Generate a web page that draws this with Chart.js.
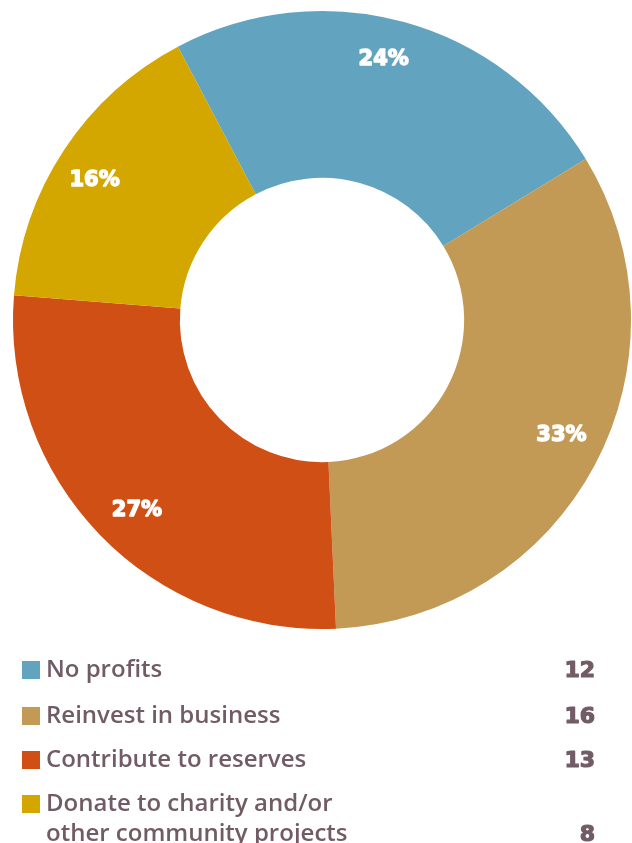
<!DOCTYPE html>
<html>
<head>
<meta charset="utf-8">
<script src="https://cdn.jsdelivr.net/npm/chart.js@4.4.1/dist/chart.umd.min.js"></script>
<style>
	html, body { margin: 0; padding: 0; background: #fff; width: 632px; height: 843px; overflow: hidden; }
</style>
</head>
<body>
<canvas id="pie" width="632" height="843"></canvas>
<script>
var categories = ["No profits", "Reinvest in business", "Contribute to reserves", "Donate to charity and/or\nother community projects"];
var counts = [12, 16, 13, 8];
var shares = [24, 33, 27, 16];
var colours = ["#62a3bf", "#c29a56", "#d04f14", "#d4a600"];

var textColour = "#715c66";

// heavy text: fill plus a thin outline of the same colour
function heavyText(ctx, txt, x, y, colour, width) {
	ctx.fillStyle = colour;
	ctx.strokeStyle = colour;
	ctx.lineWidth = width;
	ctx.lineJoin = "round";
	ctx.strokeText(txt, x, y);
	ctx.fillText(txt, x, y);
}

// percentages written on the ring, close to the outer edge
var pctLabels = {
	id: "pctLabels",
	afterDatasetsDraw: function(chart) {
		var ctx = chart.ctx;
		var meta = chart.getDatasetMeta(0);
		ctx.save();
		ctx.font = "bold 21px 'DejaVu Sans', sans-serif";
		ctx.textAlign = "center";
		ctx.textBaseline = "middle";
		meta.data.forEach(function(arc, i) {
			var p = arc.getProps(["x", "y", "startAngle", "endAngle", "innerRadius", "outerRadius"], true);
			var mid = (p.startAngle + p.endAngle) / 2 - 0.035;
			var r = p.innerRadius + (p.outerRadius - p.innerRadius) * 0.745;
			heavyText(ctx, shares[i] + "%", p.x + Math.cos(mid) * r, p.y + Math.sin(mid) * r - 1, "#fff", 1.4);
		});
		ctx.restore();
	}
};

// legend under the ring: swatch, name, count on the right
var rowBase = [677, 723, 767, 811];
var lineGap = 30;
var sideLegend = {
	id: "sideLegend",
	afterDraw: function(chart) {
		var ctx = chart.ctx;
		ctx.save();
		ctx.textBaseline = "alphabetic";
		categories.forEach(function(name, i) {
			var lines = name.split("\n");
			var y = rowBase[i];
			ctx.fillStyle = colours[i];
			ctx.fillRect(22, y - 16, 18, 18);
			ctx.fillStyle = textColour;
			ctx.textAlign = "left";
			ctx.font = "600 24px 'Open Sans', sans-serif";
			lines.forEach(function(line, k) {
				ctx.fillText(line, 46, y + k * lineGap);
			});
			ctx.textAlign = "right";
			ctx.font = "bold 22px 'DejaVu Sans', sans-serif";
			heavyText(ctx, String(counts[i]), 595, y + (lines.length - 1) * lineGap, textColour, 1.2);
		});
		ctx.restore();
	}
};

new Chart(document.getElementById("pie"), {
	type: "doughnut",
	data: {
		labels: categories,
		datasets: [{ data: shares, backgroundColor: colours, borderWidth: 0 }]
	},
	options: {
		responsive: false,
		animation: false,
		rotation: -27.8,
		cutout: "46%",
		layout: { padding: { left: 13, right: 1, top: 11, bottom: 214 } },
		plugins: { legend: { display: false }, tooltip: { enabled: false } }
	},
	plugins: [pctLabels, sideLegend]
});
</script>
</body>
</html>
